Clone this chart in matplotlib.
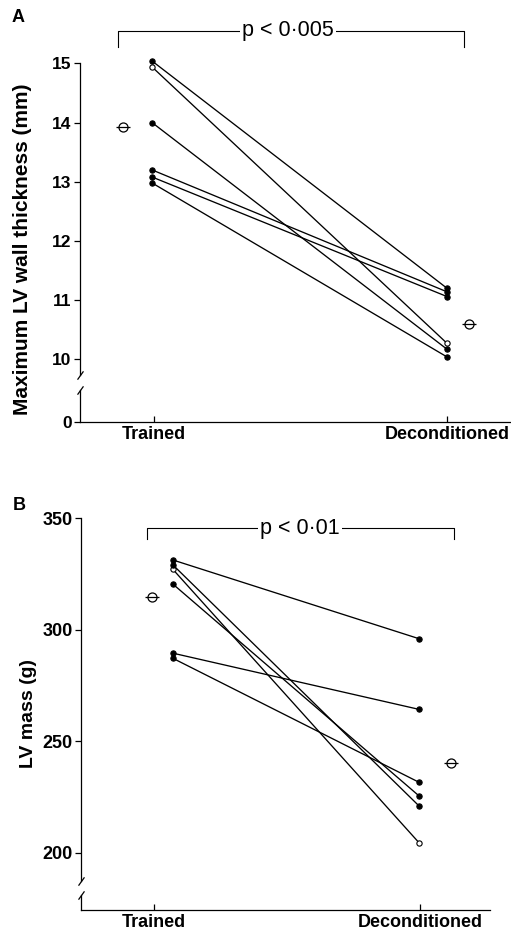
import numpy as np
import matplotlib.pyplot as plt

# panel A: maximum LV wall thickness (mm)
wall_trained = [15.04, 14.94, 14.00, 13.20, 13.08, 12.98]
wall_decond = [11.20, 10.27, 10.17, 11.14, 11.06, 10.04]
wall_open = [False, True, False, False, False, False]
wall_mean = [13.92, 10.59]
wall_ticks = [15, 14, 13, 12, 11, 10]
wall_p = 'p < 0·005'

# panel B: LV mass (g)
mass_trained = [331.3, 327.1, 329.1, 320.5, 289.5, 287.2]
mass_decond = [296.0, 204.5, 221.0, 225.5, 264.3, 231.6]
mass_open = [False, True, False, False, False, False]
mass_mean = [314.6, 240.4]
mass_ticks = [350, 300, 250, 200]
mass_p = 'p < 0·01'

groups = ['Trained', 'Deconditioned']

W, H = 511, 930
plt.rcParams['font.family'] = ['Liberation Sans', 'DejaVu Sans']
fig = plt.figure(figsize=(W / 100, H / 100), dpi=100)


def box(left, right, top, bottom):
    return [left / W, 1 - bottom / H, (right - left) / W, (bottom - top) / H]


def panel(ax, trained, decond, is_open, means, ticks, ybot, zero_label,
          xs, mean_xs, brk, bracket, ptext, px, tsize):
    for a, b, o in zip(trained, decond, is_open):
        fc = 'white' if o else 'black'
        ax.plot(xs, [a, b], color='black', lw=0.95, marker='o', ms=3.8,
                mfc=fc, mec='black', mew=0.8, clip_on=False, zorder=3)
    # group means: open circle crossed by a bar
    ax.plot(mean_xs, means, ls='none', marker='o', ms=6.5, mfc='none',
            mec='black', mew=0.9, clip_on=False)
    ax.plot(mean_xs, means, ls='none', marker='_', ms=10, mec='black',
            mew=0.9, clip_on=False)

    ax.set_ylim(ybot, ticks[0])
    if zero_label:
        ax.set_yticks(ticks + [ybot])
        ax.set_yticklabels([str(t) for t in ticks] + ['0'])
    else:
        ax.set_yticks(ticks)
        ax.set_yticklabels([str(t) for t in ticks])
    ax.set_xticks([1, 2])
    ax.set_xticklabels(groups, fontsize=13, fontweight='bold')
    ax.tick_params(axis='y', direction='out', length=4, width=0.9,
                   labelsize=tsize, pad=2)
    for lab in ax.get_yticklabels():
        lab.set_fontweight('bold')
    ax.tick_params(axis='x', direction='in', length=4, width=0.9, pad=3)

    for s in ['top', 'right', 'left']:
        ax.spines[s].set_visible(False)
    ax.spines['bottom'].set_linewidth(0.9)
    # broken left axis
    tr = ax.get_yaxis_transform()
    ax.plot([0, 0], [ticks[0], brk[0]], color='black', lw=0.9,
            transform=tr, clip_on=False)
    ax.plot([0, 0], [brk[1], ybot], color='black', lw=0.9,
            transform=tr, clip_on=False)
    ax.plot([0, 0], brk, ls='none', marker=[(-1, -1.4), (1, 1.4)], ms=6,
            mec='black', mew=0.9, transform=tr, clip_on=False)

    # significance bracket
    x0, x1, ylo, yhi = bracket
    ax.plot([x0, x0, x1, x1], [ylo, yhi, yhi, ylo], color='black', lw=0.8,
            clip_on=False)
    ax.text(px, yhi, ptext, ha='center', va='center', fontsize=15.5,
            bbox=dict(facecolor='white', edgecolor='none', pad=1.5))


axA = fig.add_axes(box(80, 511, 63.3, 421.7))
axA.set_xlim(0.7474, 2.2184)
panel(axA, wall_trained, wall_decond, wall_open, wall_mean, wall_ticks,
      8.946, True, [0.993, 2.0], [0.894, 2.075], [9.73, 9.48],
      (0.877, 2.058, 15.28, 15.55), wall_p, 1.457, 12.5)

axB = fig.add_axes(box(81, 490, 518.3, 910))
axB.set_xlim(0.7256, 2.263)
panel(axB, mass_trained, mass_decond, mass_open, mass_mean, mass_ticks,
      174.3, False, [1.071, 1.996], [0.9925, 2.117], [187.5, 181.0],
      (0.974, 2.128, 340.7, 345.5), mass_p, 1.549, 13)

fig.text(32 / W, 1 - 249 / H, 'Maximum LV wall thickness (mm)', rotation=90,
         ha='right', va='center', fontsize=15, fontweight='bold')
fig.text(37 / W, 1 - 713 / H, 'LV mass (g)', rotation=90,
         ha='right', va='center', fontsize=14, fontweight='bold')
fig.text(18 / W, 1 - 17 / H, 'A', ha='center', va='center', fontsize=13,
         fontweight='bold')
fig.text(19 / W, 1 - 505 / H, 'B', ha='center', va='center', fontsize=13,
         fontweight='bold')

fig.savefig('out.png', dpi=100)
